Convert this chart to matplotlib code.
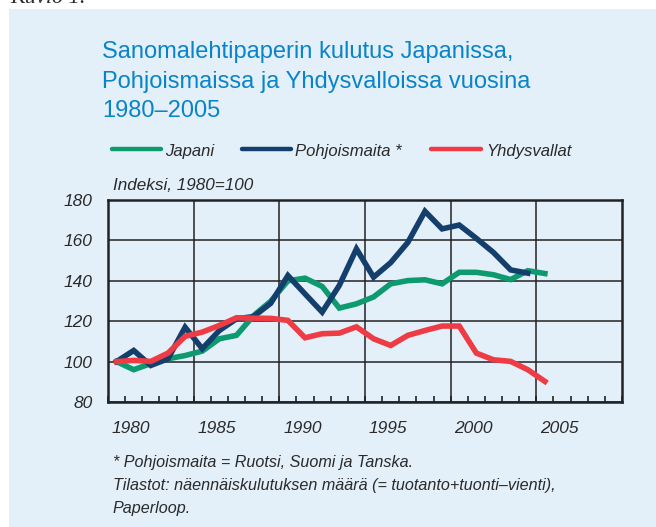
import numpy as np
import matplotlib
matplotlib.use("Agg")
import matplotlib.pyplot as plt
from matplotlib.lines import Line2D
from matplotlib.patches import Rectangle

# ========== data (index, 1980=100) ==========
years = list(range(1980, 2006))
japani = [100, 96, 99, 101.4, 103, 105.2, 111.3, 113, 122.8, 129.9, 140, 141.3, 137.2,
          126.5, 128.6, 132, 138.5, 140.1, 140.5, 138.5, 144.2, 144.2, 143, 140.6, 145, 143.6]
pohjoismaita = [100, 105.5, 98.1, 101.4, 117, 106.4, 115.4, 121.2, 122.3, 128.9, 142.6, 133.5,
                124.5, 137.7, 155.8, 141.8, 149, 159, 174.4, 165.7, 167.6, 161, 154, 145.4, 143.8]
yhdysvallat = [100, 100.6, 100.1, 104.2, 112.5, 114.6, 117.9, 121.7, 121.5, 121.4, 120.4, 111.8,
               113.8, 114.1, 117.2, 111.3, 108, 113, 115.4, 117.6, 117.6, 104.2, 100.9, 100.1, 96, 90.2]
xlabels = [1980, 1985, 1990, 1995, 2000, 2005]
ylabels = [80, 100, 120, 140, 160, 180]

# ========== style ==========
W, H = 656, 527
BG = "#E3EFF9"
TITLE_C = "#0A84C8"
TXT = "#2A2A2A"
C_JAP = "#0E9A6F"
C_POH = "#143F6D"
C_YHD = "#EE3B44"
plt.rcParams["font.family"] = ["Liberation Sans", "DejaVu Sans"]


def fx(px):
    return px / W


def fy(py):
    return 1 - py / H


fig = plt.figure(figsize=(W / 100, H / 100), dpi=100)
fig.patch.set_facecolor("white")
fig.add_artist(Rectangle((fx(9), 0), 1, fy(9), transform=fig.transFigure,
                         facecolor=BG, edgecolor="none", zorder=0))
# caption of the figure, cut off at the top edge as in the source page
fig.text(fx(10), fy(3), "Kuvio 1.", family="Liberation Serif", style="italic",
         fontsize=16, color=TXT, va="baseline")

# title
for line, base in zip(["Sanomalehtipaperin kulutus Japanissa,",
                       "Pohjoismaissa ja Yhdysvalloissa vuosina",
                       "1980\u20132005"], [58, 88, 117]):
    fig.text(fx(102), fy(base), line, fontsize=17, color=TITLE_C, va="baseline")

# legend
for x0, x1, c, lab, tx in [(112, 161, C_JAP, "Japani", 165),
                           (242, 291, C_POH, "Pohjoismaita *", 295),
                           (431, 481, C_YHD, "Yhdysvallat", 486)]:
    fig.add_artist(Line2D([fx(x0), fx(x1)], [fy(149), fy(149)], transform=fig.transFigure,
                          color=c, lw=3.2, solid_capstyle="round"))
    fig.text(fx(tx), fy(156), lab, fontsize=12, style="italic", color=TXT, va="baseline")

fig.text(fx(113), fy(190), "Indeksi, 1980=100", fontsize=12.3, style="italic",
         color=TXT, va="baseline")

# ========== chart ==========
ax = fig.add_axes([fx(108), fy(402), fx(622) - fx(108), fy(200) - fy(402)])
ax.set_facecolor(BG)
ax.plot(years, japani, color=C_JAP, lw=4, solid_joinstyle="miter", zorder=3)
ax.plot(years[:len(pohjoismaita)], pohjoismaita, color=C_POH, lw=4,
        solid_joinstyle="miter", zorder=4)
ax.plot(years, yhdysvallat, color=C_YHD, lw=4, solid_joinstyle="miter", zorder=5)

ax.set_xlim(1979.5, 2009.5)
ax.set_ylim(80, 180)
ax.set_yticks(ylabels)
ax.set_yticklabels([str(v) for v in ylabels], fontsize=12.5, style="italic", color=TXT)
ax.tick_params(axis="y", length=0, pad=11)
ax.set_xticks([y + 0.85 for y in xlabels])
ax.set_xticklabels([str(v) for v in xlabels], fontsize=12.5, style="italic", color=TXT)
ax.tick_params(axis="x", which="major", length=0, pad=14)
ax.set_xticks(np.arange(1979.5, 2010, 1), minor=True)
ax.tick_params(axis="x", which="minor", direction="in", length=4, width=1.2, color="#222222")

ax.grid(axis="y", color="#222222", lw=1.1, zorder=1)
for g in np.arange(1984.5, 2009, 5):
    ax.axvline(g, color="#222222", lw=1.1, zorder=1)
for s in ax.spines.values():
    s.set_color("#222222")
    s.set_linewidth(1.8)

# footnotes
for line, base in zip(["* Pohjoismaita = Ruotsi, Suomi ja Tanska.",
                       "Tilastot: n\u00e4enn\u00e4iskulutuksen m\u00e4\u00e4r\u00e4 (= tuotanto+tuonti\u2013vienti),",
                       "Paperloop."], [467, 490, 513]):
    fig.text(fx(113), fy(base), line, fontsize=11.6, style="italic", color=TXT, va="baseline")

fig.savefig("out.png", dpi=100)
